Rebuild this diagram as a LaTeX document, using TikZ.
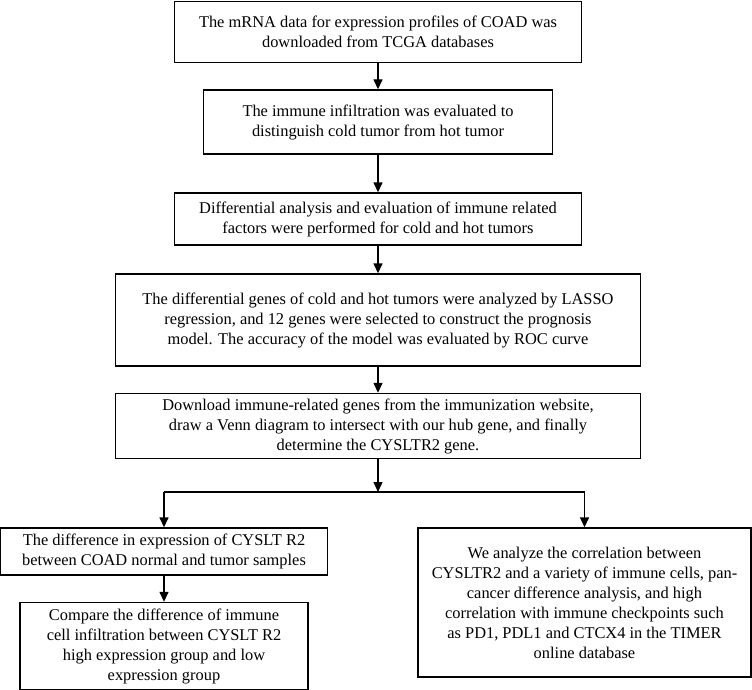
\documentclass[tikz,border=0pt]{standalone}
\usepackage{fontspec}
\setmainfont{Liberation Serif}
\usetikzlibrary{arrows.meta}

\begin{document}
\begin{tikzpicture}[x=1pt, y=-1pt, >={Triangle[length=10pt,width=9pt]},
  box/.style={draw, line width=1.4pt, align=center, inner sep=0pt,
    font=\fontsize{16.4}{20}\selectfont},
  link/.style={->, line width=1.4pt}]
\useasboundingbox (0,0) rectangle (752,690);

\node[box, minimum width=407pt, minimum height=61pt] (mrna) at (378,32)
  {The mRNA data for expression profiles of COAD was\\downloaded from TCGA databases};
\node[box, minimum width=349pt, minimum height=64pt] (immune) at (378,122)
  {The immune infiltration was evaluated to\\distinguish cold tumor from hot tumor};
\node[box, minimum width=407pt, minimum height=52pt] (diffan) at (378,219)
  {Differential analysis and evaluation of immune related\\factors were performed for cold and hot tumors};
\node[box, minimum width=525pt, minimum height=92pt] (lasso) at (378,320)
  {The differential genes of cold and hot tumors were analyzed by LASSO\\regression, and 12 genes were selected to construct the prognosis\\model. The accuracy of the model was evaluated by ROC curve};
\node[box, minimum width=525pt, minimum height=65pt] (venn) at (378,426)
  {Download immune-related genes from the immunization website,\\draw a Venn diagram to intersect with our hub gene, and finally\\determine the CYSLTR2 gene.};
\node[box, minimum width=327pt, minimum height=47pt] (exprdiff) at (164,551.5)
  {The difference in expression of CYSLT R2\\between COAD normal and tumor samples};
\node[box, minimum width=288pt, minimum height=87pt] (infilt) at (164,646)
  {Compare the difference of immune\\cell infiltration between CYSLT R2\\high expression group and low\\expression group};
\node[box, minimum width=333pt, minimum height=149pt] (corr) at (584.5,602.5)
  {We analyze the correlation between\\CYSLTR2 and a variety of immune cells, pan-\\cancer difference analysis, and high\\correlation with immune checkpoints such\\as PD1, PDL1 and CTCX4 in the TIMER\\online database};

\coordinate (split) at (378,492);

\draw[link] (mrna) -- (immune);
\draw[link] (immune) -- (diffan);
\draw[link] (diffan) -- (lasso);
\draw[link] (lasso) -- (venn);
\draw[link] (venn) -- (split);
\draw[line width=1.4pt] (split -| exprdiff) -- (split -| corr);
\draw[link] (split -| exprdiff) -- (exprdiff);
\draw[link] (split -| corr) -- (corr);
\draw[link] (exprdiff) -- (infilt);
\end{tikzpicture}
\end{document}
